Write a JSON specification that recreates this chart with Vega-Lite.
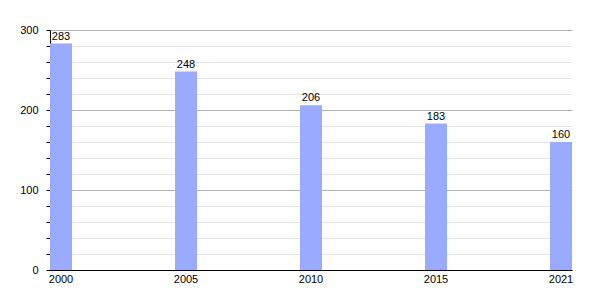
{
  "$schema": "https://vega.github.io/schema/vega-lite/v6.json",
  "autosize": "none",
  "width": 522,
  "height": 240,
  "padding": {"left": 50, "top": 30, "right": 28, "bottom": 30},
  "background": "white",
  "config": {
    "view": {"stroke": null},
    "font": "Liberation Sans",
    "axis": {"labelFont": "Liberation Sans", "labelFontSize": 11, "labelColor": "#000"}
  },
  "data": {
    "values": [
      {"year": "2000", "value": 283},
      {"year": "2005", "value": 248},
      {"year": "2010", "value": 206},
      {"year": "2015", "value": 183},
      {"year": "2021", "value": 160}
    ]
  },
  "encoding": {
    "x": {
      "field": "year",
      "type": "ordinal",
      "scale": {"paddingInner": 0.824, "paddingOuter": 0},
      "axis": {
        "title": null,
        "labelAngle": 0,
        "ticks": false,
        "domainColor": "#000",
        "domainWidth": 1,
        "labelPadding": 3
      }
    },
    "y": {
      "field": "value",
      "type": "quantitative",
      "scale": {"domain": [0, 300], "nice": false},
      "axis": {
        "title": null,
        "values": [0, 20, 40, 60, 80, 100, 120, 140, 160, 180, 200, 220, 240, 260, 280, 300],
        "labelExpr": "datum.value % 100 == 0 ? datum.label : ''",
        "tickSize": 4,
        "tickColor": "#000",
        "domainColor": "#000",
        "labelPadding": 8,
        "gridColor": {"condition": {"test": "datum.value % 100 == 0", "value": "#b0b0b0"}, "value": "#e4e4e4"}
      }
    }
  },
  "layer": [
    {"mark": {"type": "bar", "color": "#99aaff"}},
    {
      "mark": {"type": "text", "baseline": "bottom", "dy": -2, "fontSize": 11, "color": "#000"},
      "encoding": {"text": {"field": "value", "type": "quantitative"}}
    }
  ]
}
